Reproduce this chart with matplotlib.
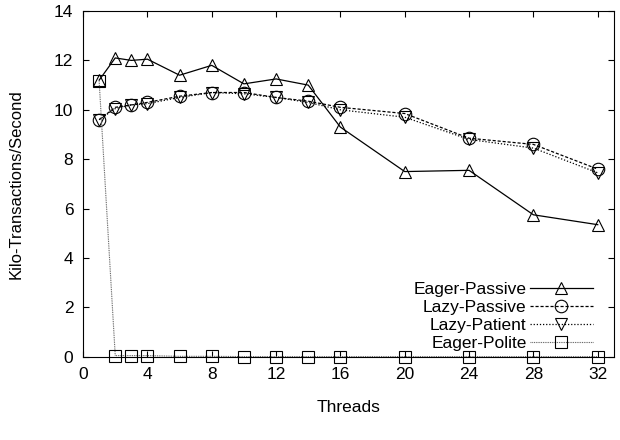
import numpy as np
import matplotlib
matplotlib.use("Agg")
import matplotlib.pyplot as plt

plt.rcParams['font.family'] = ['Liberation Sans', 'DejaVu Sans']

# data
threads = [1, 2, 3, 4, 6, 8, 10, 12, 14, 16, 20, 24, 28, 32]
eager_passive = [11.2, 12.1, 12.0, 12.05, 11.4, 11.8, 11.05, 11.25, 11.0, 9.3, 7.5, 7.55, 5.75, 5.35]
lazy_passive = [9.6, 10.1, 10.2, 10.3, 10.55, 10.7, 10.7, 10.5, 10.35, 10.1, 9.85, 8.85, 8.6, 7.6]
lazy_patient = [9.6, 10.05, 10.2, 10.25, 10.5, 10.7, 10.65, 10.5, 10.3, 10.0, 9.7, 8.8, 8.45, 7.45]
eager_polite = [11.15, 0.05, 0.05, 0.05, 0.02, 0.02, 0.01, 0.01, 0.01, 0.01, 0.01, 0.01, 0.01, 0.01]

xticks = [0, 4, 8, 12, 16, 20, 24, 28, 32]
yticks = [0, 2, 4, 6, 8, 10, 12, 14]

fig = plt.figure(figsize=(6.2, 4.4), dpi=100)
ax = fig.add_axes([0.134, 0.189, 0.856, 0.786])

mk = dict(markersize=9, markerfacecolor='none', markeredgewidth=0.8, markeredgecolor='black')
ax.plot(threads, eager_passive, '-', marker='^', color='black', linewidth=0.9, label='Eager-Passive', **mk)
ax.plot(threads, lazy_passive, '--', marker='o', color='black', linewidth=0.9, dashes=(2.5, 1.5),
        label='Lazy-Passive', **mk)
ax.plot(threads, lazy_patient, ':', marker='v', color='black', linewidth=0.9, dashes=(1, 1.5),
        label='Lazy-Patient', **mk)
ax.plot(threads, eager_polite, ':', marker='s', color='0.35', linewidth=0.8, dashes=(0.8, 0.8),
        label='Eager-Polite', clip_on=False, **mk)

ax.set_xlim(0, 33)
ax.set_ylim(0, 14)
ax.set_xticks(xticks)
ax.set_yticks(yticks)
ax.tick_params(direction='in', top=True, right=True, labelsize=12.5, length=4, pad=7)
ax.set_xlabel('Threads', fontsize=12.5)
ax.set_ylabel('Kilo-Transactions/Second', fontsize=12)
ax.xaxis.set_label_coords(0.5, -0.124)
ax.yaxis.set_label_coords(-0.112, 0.5)

leg = ax.legend(loc='lower right', bbox_to_anchor=(0.960, 0.018), frameon=False, markerfirst=False,
                fontsize=12.5, handlelength=3.6, labelspacing=0.16, borderaxespad=0, borderpad=0,
                handletextpad=0.2)
leg._legend_box.align = 'right'

fig.savefig('out.png', dpi=100)
